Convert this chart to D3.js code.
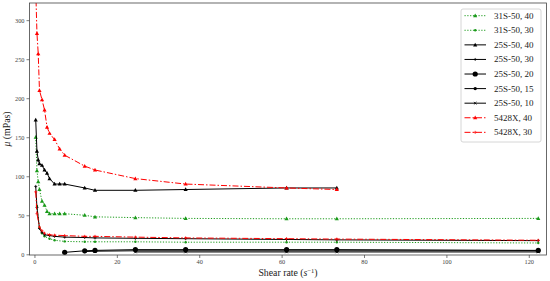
<!DOCTYPE html>
<html><head><meta charset="utf-8">
<script src="https://cdn.jsdelivr.net/npm/d3@7"></script>
<style>body{margin:0;background:#fff}svg{display:block}</style>
</head><body>
<svg id="c" width="550" height="281"></svg>
<script>
const xTicks = [0, 20, 40, 60, 80, 100, 120];
const yTicks = [0, 50, 100, 150, 200, 250, 300];

const g31_40_x = [0.31, 0.61, 0.92, 1.22, 1.84, 2.45, 3.06, 3.67, 4.89, 6.12, 7.34, 12.2, 14.7, 24.5, 36.7, 61.2, 73.4, 122.3];
const g31_40_y = [150, 107, 93, 83, 68, 63, 55, 52, 52, 52, 52, 50, 48, 47, 46, 45.5, 45.5, 46];
const g31_30_x = [0.61, 1.22, 1.84, 2.45, 3.67, 4.89, 7.34, 12.2, 14.7, 24.5, 36.7, 61.2, 73.4, 122.3];
const g31_30_y = [62, 34, 27, 23, 20, 18, 16.5, 16, 16, 16, 15.5, 15.5, 15.5, 14.5];
const b25_40_x = [0.31, 0.61, 0.92, 1.22, 1.84, 2.45, 3.06, 3.67, 4.89, 6.12, 7.34, 12.2, 14.7, 24.5, 36.7, 61.2, 73.4];
const b25_40_y = [172, 132, 121, 116, 114, 108, 104, 97, 90, 90, 90, 85, 82, 82, 83, 85, 85];
const b25_30_x = [0.31, 0.61, 1.22, 1.84, 2.45, 3.67, 4.89, 7.34, 12.2, 14.7, 24.5, 36.7, 61.2, 73.4, 122.3];
const b25_30_y = [87, 60, 33, 28, 25, 24, 23, 22, 21.5, 21, 20.5, 20, 19, 18.5, 17.5];
const b25_20_x = [7.34, 12.2, 14.7, 24.5, 36.7, 61.2, 73.4, 122.3];
const b25_20_y = [2.5, 4.5, 5, 6, 6, 6, 6, 5];
const b25_15_x = [12.2, 14.7, 24.5, 36.7, 61.2, 73.4, 122.3];
const b25_15_y = [3.5, 4, 4.5, 4.5, 4.5, 4.5, 4.5];
const b25_10_x = [24.5, 36.7, 61.2, 73.4, 122.3];
const b25_10_y = [3, 3, 3, 3, 3];
const r54_40_x = [0.31, 0.61, 0.92, 1.22, 1.84, 2.45, 3.06, 3.67, 4.89, 6.12, 7.34, 12.2, 14.7, 24.5, 36.7, 61.2, 73.4];
const r54_40_y = [340, 283, 257, 210, 198, 185, 163, 155, 147, 135, 127, 113, 108, 97, 90, 85, 83];
const r54_30_x = [0.31, 0.61, 1.22, 1.84, 2.45, 3.67, 4.89, 7.34, 12.2, 14.7, 24.5, 36.7, 61.2, 73.4, 122.3];
const r54_30_y = [80, 52, 35, 30, 27, 25, 24.5, 24, 23, 23, 22, 21, 20, 19.5, 18];

const seriesNames = ["31S-50, 40","31S-50, 30","25S-50, 40","25S-50, 30","25S-50, 20","25S-50, 15","25S-50, 10","5428X, 40","5428X, 30"];
const seriesX = [g31_40_x,g31_30_x,b25_40_x,b25_30_x,b25_20_x,b25_15_x,b25_10_x,r54_40_x,r54_30_x];
const seriesY = [g31_40_y,g31_30_y,b25_40_y,b25_30_y,b25_20_y,b25_15_y,b25_10_y,r54_40_y,r54_30_y];
const seriesColor = ["#1a9a1a","#1a9a1a","#000","#000","#000","#000","#000","#ff0000","#ff0000"];
const seriesDash = ["1.2,1.6","1.2,1.6",null,null,null,null,null,"6,2,1.5,2","6,2,1.5,2"];
const seriesMarker = ["tri","dot","tri","plus","bigdot","meddot","x","tri","plus"];

const svg = d3.select("#c");
const L = 29.5, R = 546.5, T = 3, B = 255;
const x = d3.scaleLinear().domain([-1.2, 124.3]).range([L, R]);
const y = d3.scaleLinear().domain([-0.9, 322]).range([B, T]);

svg.append("defs").append("clipPath").attr("id","clip")
  .append("rect").attr("x",L).attr("y",T).attr("width",R-L).attr("height",B-T);

const serif = "'Liberation Serif','DejaVu Serif',serif";

const xAxis = svg.append("g").attr("transform",`translate(0,${B})`)
  .call(d3.axisBottom(x).tickValues(xTicks).tickSize(3).tickPadding(2).tickFormat(d3.format("d")));
const yAxis = svg.append("g").attr("transform",`translate(${L},0)`)
  .call(d3.axisLeft(y).tickValues(yTicks).tickSize(3).tickPadding(2).tickFormat(d3.format("d")));
[xAxis,yAxis].forEach(a=>{
  a.select(".domain").remove();
  a.selectAll("line").attr("stroke","#444").attr("stroke-width",0.7);
  a.selectAll("text").attr("font-family",serif).attr("font-size",6.3).attr("fill","#444");
});

const plot = svg.append("g").attr("clip-path","url(#clip)");

function marker(g, type, px, py, col){
  if(type==="tri"){
    const s=2.2;
    g.append("path").attr("d",`M${px},${py-s}L${px+s*0.95},${py+s*0.7}L${px-s*0.95},${py+s*0.7}Z`).attr("fill",col);
  } else if(type==="dot"){
    g.append("circle").attr("cx",px).attr("cy",py).attr("r",1.2).attr("fill",col);
  } else if(type==="plus"){
    g.append("path").attr("d",`M${px-1.5},${py}H${px+1.5}M${px},${py-1.5}V${py+1.5}`).attr("stroke",col).attr("stroke-width",0.8);
  } else if(type==="bigdot"){
    g.append("circle").attr("cx",px).attr("cy",py).attr("r",2.6).attr("fill",col);
  } else if(type==="meddot"){
    g.append("circle").attr("cx",px).attr("cy",py).attr("r",1.7).attr("fill",col);
  } else if(type==="x"){
    g.append("path").attr("d",`M${px-1.3},${py-1.3}L${px+1.3},${py+1.3}M${px-1.3},${py+1.3}L${px+1.3},${py-1.3}`).attr("stroke",col).attr("stroke-width",0.8);
  }
}

const line = d3.line().x(d=>x(d[0])).y(d=>y(d[1]));
seriesNames.forEach((n,i)=>{
  const pts = seriesX[i].map((v,j)=>[v, seriesY[i][j]]);
  const g = plot.append("g");
  g.append("path").attr("d",line(pts)).attr("fill","none")
    .attr("stroke",seriesColor[i]).attr("stroke-width",1)
    .attr("stroke-dasharray",seriesDash[i]);
  pts.forEach(p=>marker(g, seriesMarker[i], x(p[0]), y(p[1]), seriesColor[i]));
});

svg.append("rect").attr("x",L).attr("y",T).attr("width",R-L).attr("height",B-T)
  .attr("fill","none").attr("stroke","#444").attr("stroke-width",0.8);

svg.append("text").attr("x",(L+R)/2).attr("y",276).attr("text-anchor","middle")
  .attr("font-family",serif).attr("font-size",9.8).attr("fill","#222")
  .html('Shear rate (<tspan font-style="italic">s</tspan><tspan dy="-3.5" font-size="6.5">−1</tspan><tspan dy="3.5">)</tspan>');
svg.append("text").attr("transform","translate(10,129) rotate(-90)").attr("text-anchor","middle")
  .attr("font-family",serif).attr("font-size",9.8).attr("fill","#222")
  .html('<tspan font-style="italic">μ</tspan> (mPas)');

const lg = svg.append("g");
lg.append("rect").attr("x",461).attr("y",9).attr("width",80).attr("height",133)
  .attr("rx",2).attr("fill","#fff").attr("fill-opacity",0.85).attr("stroke","#ccc").attr("stroke-width",0.8);
seriesNames.forEach((n,i)=>{
  const yy = 15.7 + i*14.58;
  lg.append("line").attr("x1",464.5).attr("x2",486).attr("y1",yy).attr("y2",yy)
    .attr("stroke",seriesColor[i]).attr("stroke-width",1).attr("stroke-dasharray",seriesDash[i]);
  marker(lg, seriesMarker[i], 475.2, yy, seriesColor[i]);
  lg.append("text").attr("x",494).attr("y",yy+3).attr("font-family",serif)
    .attr("font-size",9).attr("fill","#222").text(n);
});
</script>
</body></html>
